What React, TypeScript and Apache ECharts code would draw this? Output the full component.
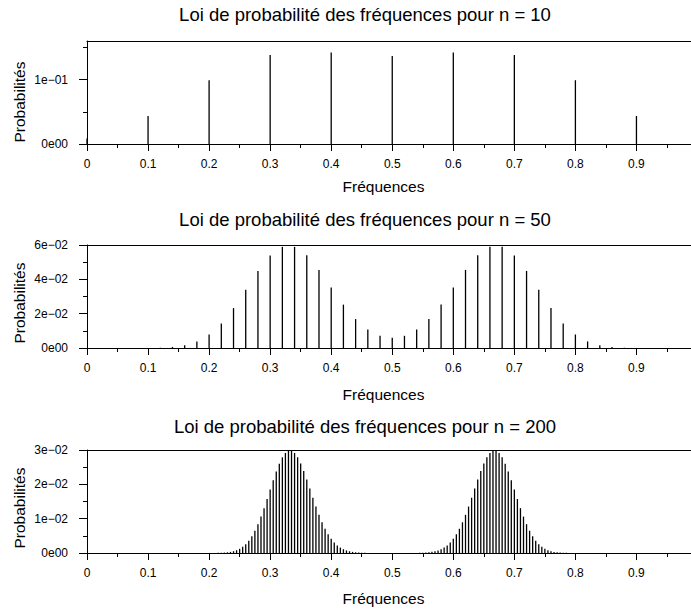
import React, { useEffect, useRef } from "react";
import * as echarts from "echarts";

// ---- data ----
const titles = [
  "Loi de probabilité des fréquences pour n = 10",
  "Loi de probabilité des fréquences pour n = 50",
  "Loi de probabilité des fréquences pour n = 200",
];
const xName = "Fréquences";
const yName = "Probabilités";
const xTickLabels = ["0", "0.1", "0.2", "0.3", "0.4", "0.5", "0.6", "0.7", "0.8", "0.9"];

// n = 10 : k = 0..10
const n10 = 10;
const n10Start = 0;
const n10Probs = [0.0087, 0.0435, 0.0991, 0.1382, 0.1423, 0.1366, 0.1423, 0.1382, 0.0991, 0.0435, 0.0087];

// n = 50 : k = 4..46
const n50 = 50;
const n50Start = 4;
const n50Probs = [
  0.000011, 0.000052, 0.000195, 0.000612, 0.001645, 0.003837, 0.007867, 0.014303, 0.023242, 0.033969,
  0.044888, 0.053866, 0.058915, 0.058915, 0.05401, 0.04549, 0.03528, 0.02527, 0.01685, 0.01073,
  0.0071, 0.005908, 0.0071, 0.01073, 0.01685, 0.02527, 0.03528, 0.04549, 0.05401, 0.058915,
  0.058915, 0.053866, 0.044888, 0.033969, 0.023242, 0.014303, 0.007867, 0.003837, 0.001645, 0.000612,
  0.000195, 0.000052, 0.000011,
];

// n = 200 : left hump k = 40..95, right hump k = 105..160
const n200 = 200;
const n200LeftStart = 40;
const n200Left = [
  0.0000056, 0.000011, 0.0000208, 0.0000383, 0.0000683, 0.000118, 0.000199, 0.000327, 0.000521, 0.000808,
  0.00122, 0.00179, 0.00257, 0.00359, 0.00488, 0.00648, 0.00839, 0.0106, 0.01306, 0.01572,
  0.01847, 0.0212, 0.02376, 0.02603, 0.02786, 0.02914, 0.0298, 0.0298, 0.02915, 0.02788,
  0.02609, 0.02388, 0.02139, 0.01876, 0.0161, 0.01352, 0.01112, 0.00895, 0.00706, 0.00545,
  0.00412, 0.00305, 0.00222, 0.00157, 0.0011, 0.000748, 0.0005, 0.000328, 0.000211, 0.000132,
  0.0000817, 0.0000494, 0.0000292, 0.000017, 0.0000097, 0.0000054,
];
const n200RightStart = 105;
const n200Right = [
  0.0000054, 0.0000097, 0.000017, 0.0000292, 0.0000494, 0.0000817, 0.000132, 0.000211, 0.000328, 0.0005,
  0.000748, 0.0011, 0.00157, 0.00222, 0.00305, 0.00412, 0.00545, 0.00706, 0.00895, 0.01112,
  0.01352, 0.0161, 0.01876, 0.02139, 0.02388, 0.02609, 0.02788, 0.02915, 0.0298, 0.0298,
  0.02914, 0.02786, 0.02603, 0.02376, 0.0212, 0.01847, 0.01572, 0.01306, 0.0106, 0.00839,
  0.00648, 0.00488, 0.00359, 0.00257, 0.00179, 0.00122, 0.000808, 0.000521, 0.000327, 0.000199,
  0.000118, 0.0000683, 0.0000383, 0.0000208, 0.000011, 0.0000056,
];

const yMax = [0.16, 0.06, 0.03];
const yMajorTicks = [
  [0, 0.1],
  [0, 0.02, 0.04, 0.06],
  [0, 0.01, 0.02, 0.03],
];
const yMinorTicks = [
  [0.05, 0.15],
  [0.01, 0.03, 0.05],
  [0.005, 0.015, 0.025],
];
const yTickLabels = [
  ["0e00", "1e\u221201"],
  ["0e00", "2e\u221202", "4e\u221202", "6e\u221202"],
  ["0e00", "1e\u221202", "2e\u221202", "3e\u221202"],
];

// ---- layout ----
const FONT = '"Liberation Sans", Arial, Helvetica, sans-serif';
const gridTops = [41, 245, 450];
const gridH = 103;
const gridLeft = 87;
const gridWidth = 610.5;
const titleY = [14, 219, 426];
const xNameY = [186, 394, 598];
const yNameY = [102, 303, 508];

function toPairs(n: number, start: number, probs: number[]) {
  return probs.map((p, i) => [(start + i) / n, p]);
}

export default function App() {
  const ref = useRef<HTMLDivElement>(null);
  useEffect(() => {
    if (!ref.current) return;
    const chart = echarts.init(ref.current, null, { renderer: "svg" });
    const seriesData = [
      toPairs(n10, n10Start, n10Probs),
      toPairs(n50, n50Start, n50Probs),
      [...toPairs(n200, n200LeftStart, n200Left), ...toPairs(n200, n200RightStart, n200Right)],
    ];
    const grids: any[] = [];
    const xAxes: any[] = [];
    const yAxes: any[] = [];
    const series: any[] = [];
    const graphics: any[] = [];
    const black = "#000";
    for (let g = 0; g < 3; g++) {
      grids.push({
        left: gridLeft,
        width: gridWidth,
        top: gridTops[g],
        height: gridH,
        show: false,
        containLabel: false,
        outerBoundsMode: "none",
      });
      // main x axis (bottom)
      xAxes.push({
        gridIndex: g,
        type: "value",
        position: "bottom",
        min: 0,
        max: 1,
        interval: 0.1,
        axisLine: { show: true, onZero: false, lineStyle: { color: black, width: 1 } },
        axisTick: { show: true, length: 7, lineStyle: { color: black } },
        minorTick: { show: true, splitNumber: 2, length: 4, lineStyle: { color: black } },
        axisLabel: {
          show: true,
          margin: 14,
          showMaxLabel: false,
          color: black,
          fontSize: 12,
          fontFamily: FONT,
          formatter: (v: number) => xTickLabels[Math.round(v * 10)] ?? "",
        },
        splitLine: { show: false },
        minorSplitLine: { show: false },
      });
      // top frame line
      xAxes.push({
        gridIndex: g,
        type: "value",
        position: "top",
        min: 0,
        max: 1,
        axisLine: { show: true, onZero: false, lineStyle: { color: black, width: 1 } },
        axisTick: { show: false },
        axisLabel: { show: false },
        splitLine: { show: false },
      });
      // main y axis with major ticks
      yAxes.push({
        gridIndex: g,
        type: "value",
        position: "left",
        min: 0,
        max: yMax[g],
        axisLine: { show: true, onZero: false, lineStyle: { color: black, width: 1 } },
        axisTick: { show: true, length: 8, customValues: yMajorTicks[g], lineStyle: { color: black } },
        axisLabel: {
          show: true,
          customValues: yMajorTicks[g],
          margin: 19,
          color: black,
          fontSize: 12,
          fontFamily: FONT,
          formatter: (v: number) => {
            const i = yMajorTicks[g].findIndex((t) => Math.abs(t - v) < 1e-9);
            return i >= 0 ? yTickLabels[g][i] : "";
          },
        },
        splitLine: { show: false },
      });
      // minor ticks on y
      yAxes.push({
        gridIndex: g,
        type: "value",
        position: "left",
        min: 0,
        max: yMax[g],
        axisLine: { show: false },
        axisTick: { show: true, length: 4, customValues: yMinorTicks[g], lineStyle: { color: black } },
        axisLabel: { show: false },
        splitLine: { show: false },
      });
      series.push({
        type: "bar",
        xAxisIndex: g * 2,
        yAxisIndex: g * 2,
        data: seriesData[g],
        barWidth: 1.3,
        itemStyle: { color: black },
        silent: true,
      });
      graphics.push({
        type: "text",
        x: 365,
        y: titleY[g],
        style: { text: titles[g], fill: black, fontSize: 18.5, fontFamily: FONT, align: "center", verticalAlign: "middle" },
      });
      graphics.push({
        type: "text",
        x: 383.5,
        y: xNameY[g],
        style: { text: xName, fill: black, fontSize: 15.5, fontFamily: FONT, align: "center", verticalAlign: "middle" },
      });
      graphics.push({
        type: "text",
        x: 19,
        y: yNameY[g],
        rotation: Math.PI / 2,
        style: { text: yName, fill: black, fontSize: 15.5, fontFamily: FONT, align: "center", verticalAlign: "middle" },
      });
    }
    chart.setOption({
      animation: false,
      backgroundColor: "#fff",
      grid: grids,
      xAxis: xAxes,
      yAxis: yAxes,
      series,
      graphic: graphics,
    });
    return () => chart.dispose();
  }, []);
  return (
    <div
      ref={ref}
      style={{ position: "absolute", left: 0, top: 0, width: 691, height: 610, background: "#fff" }}
    />
  );
}
